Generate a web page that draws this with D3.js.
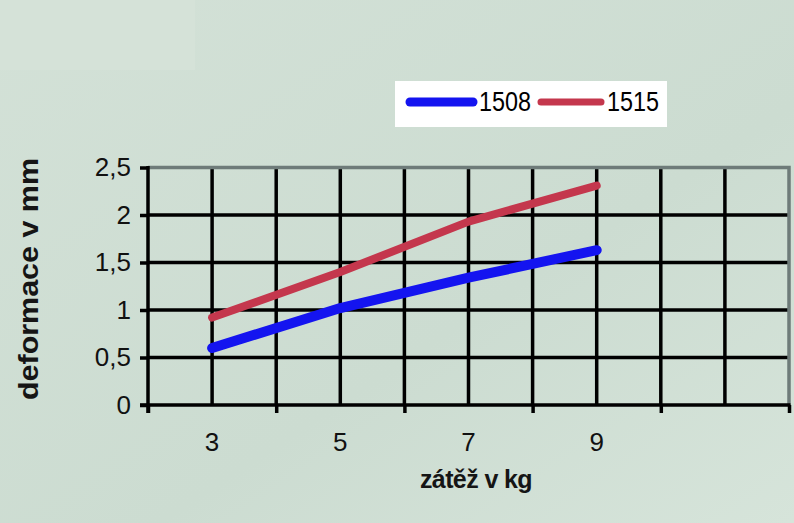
<!DOCTYPE html>
<html>
<head>
<meta charset="utf-8">
<script src="https://cdn.jsdelivr.net/npm/d3@7"></script>
<style>
  body { margin: 0; padding: 0; overflow: hidden; }
  svg { display: block; }
</style>
</head>
<body>
<svg id="chart" width="794" height="523"></svg>
<script>
// data
const loads = [3, 5, 7, 9];
const values1508 = [0.6, 1.02, 1.34, 1.63];
const values1515 = [0.92, 1.4, 1.93, 2.31];
const seriesNames = ['1508', '1515'];
const seriesColors = ['#1414f0', '#c4374d'];
const yTicks = [0, 0.5, 1, 1.5, 2, 2.5];
const xLabelTicks = [3, 5, 7, 9];
const xMajorTicks = [2, 4, 6, 8, 10, 12];
const xGridTicks = [3, 4, 5, 6, 7, 8, 9, 10, 11];

const svg = d3.select('#chart');
const font = '"Liberation Sans", Arial, sans-serif';

// Background
svg.append('rect').attr('width', 794).attr('height', 523).attr('fill', '#cfdfd4');
const grad = svg.append('defs').append('linearGradient')
    .attr('id', 'bg').attr('x1', 0).attr('y1', 0).attr('x2', 1).attr('y2', 1);
grad.append('stop').attr('offset', '0%').attr('stop-color', '#d3e1d7');
grad.append('stop').attr('offset', '60%').attr('stop-color', '#ccdcd1');
grad.append('stop').attr('offset', '100%').attr('stop-color', '#d6e4da');
svg.append('rect').attr('width', 794).attr('height', 523).attr('fill', 'url(#bg)');
svg.append('rect').attr('width', 195).attr('height', 70).attr('fill', '#d5e2d8');

const xScale = d3.scaleLinear().domain([2, 12]).range([148, 789]);
const yScale = d3.scaleLinear().domain([0, 2.5]).range([405, 167.5]);

// Grid
svg.append('g')
    .selectAll('line')
    .data(yTicks.filter(d => d > 0 && d < 2.5))
    .enter()
    .append('line')
    .attr('x1', xScale(2)).attr('x2', xScale(12))
    .attr('y1', d => yScale(d)).attr('y2', d => yScale(d))
    .attr('stroke', '#000').attr('stroke-width', 3.5);

svg.append('g')
    .selectAll('line')
    .data(xGridTicks)
    .enter()
    .append('line')
    .attr('x1', d => xScale(d)).attr('x2', d => xScale(d))
    .attr('y1', yScale(2.5)).attr('y2', yScale(0))
    .attr('stroke', '#000').attr('stroke-width', 3.5);

// Plot border (top and right)
svg.append('path')
    .attr('d', 'M' + xScale(2) + ',' + yScale(2.5) + 'H' + xScale(12) + 'V' + yScale(0))
    .attr('fill', 'none')
    .attr('stroke', '#6e7b79')
    .attr('stroke-width', 3.5);

// Y axis
const yAxis = svg.append('g')
    .attr('transform', 'translate(' + xScale(2) + ',0)')
    .call(d3.axisLeft(yScale).tickValues(yTicks).tickSize(8).tickPadding(9)
        .tickFormat(d => String(d).replace('.', ',')));
yAxis.select('.domain').remove();
yAxis.selectAll('.tick line').attr('stroke', '#000').attr('stroke-width', 3.5);
yAxis.selectAll('.tick text')
    .style('font-family', font).style('font-size', '26px').attr('fill', '#111');
svg.append('line')
    .attr('x1', xScale(2)).attr('x2', xScale(2))
    .attr('y1', yScale(2.5) - 1.5).attr('y2', yScale(0) + 8)
    .attr('stroke', '#000').attr('stroke-width', 3.5);

// X axis
const xAxis = svg.append('g')
    .attr('transform', 'translate(0,' + yScale(0) + ')')
    .call(d3.axisBottom(xScale).tickValues(xMajorTicks).tickSize(8).tickFormat(''));
xAxis.select('.domain').remove();
xAxis.selectAll('.tick line').attr('stroke', '#000').attr('stroke-width', 3.5);
svg.append('line')
    .attr('x1', xScale(2) - 8).attr('x2', xScale(12) + 1.5)
    .attr('y1', yScale(0)).attr('y2', yScale(0))
    .attr('stroke', '#000').attr('stroke-width', 3.5);

svg.append('g')
    .selectAll('text')
    .data(xLabelTicks)
    .enter()
    .append('text')
    .attr('x', d => xScale(d))
    .attr('y', 451)
    .attr('text-anchor', 'middle')
    .style('font-family', font)
    .style('font-size', '26px')
    .attr('fill', '#111')
    .text(d => d);

// Axis titles
svg.append('text')
    .attr('x', 476)
    .attr('y', 488)
    .attr('text-anchor', 'middle')
    .style('font-family', font)
    .style('font-size', '25px')
    .style('font-weight', 'bold')
    .style('letter-spacing', '-0.6px')
    .attr('fill', '#151515')
    .text('zátěž v kg');

svg.append('text')
    .attr('transform', 'translate(38,279)rotate(-90)')
    .attr('text-anchor', 'middle')
    .style('font-family', font)
    .style('font-size', '28px')
    .style('font-weight', 'bold')
    .attr('textLength', 242)
    .attr('lengthAdjust', 'spacingAndGlyphs')
    .attr('fill', '#151515')
    .text('deformace v mm');

// Lines
const line = d3.line()
    .x((d, i) => xScale(loads[i]))
    .y(d => yScale(d));

[values1508, values1515].forEach((vals, i) => {
    svg.append('path')
        .datum(vals)
        .attr('d', line)
        .attr('fill', 'none')
        .attr('stroke', seriesColors[i])
        .attr('stroke-width', i === 0 ? 10 : 8)
        .attr('stroke-linecap', 'round')
        .attr('stroke-linejoin', 'round');
});

// Legend
const legend = svg.append('g');
legend.append('rect')
    .attr('x', 395).attr('y', 81).attr('width', 272).attr('height', 46)
    .attr('fill', '#ffffff');
const legendItems = [
    { x1: 410, x2: 473, tx: 479 },
    { x1: 541, x2: 601, tx: 607 }
];
legendItems.forEach((it, i) => {
    legend.append('line')
        .attr('x1', it.x1).attr('x2', it.x2)
        .attr('y1', 102).attr('y2', 102)
        .attr('stroke', seriesColors[i])
        .attr('stroke-width', i === 0 ? 9 : 7)
        .attr('stroke-linecap', 'round');
    legend.append('text')
        .attr('x', it.tx)
        .attr('y', 111)
        .style('font-family', font)
        .style('font-size', '27px')
        .attr('textLength', 52)
        .attr('lengthAdjust', 'spacingAndGlyphs')
        .attr('fill', '#000')
        .text(seriesNames[i]);
});
</script>
</body>
</html>
